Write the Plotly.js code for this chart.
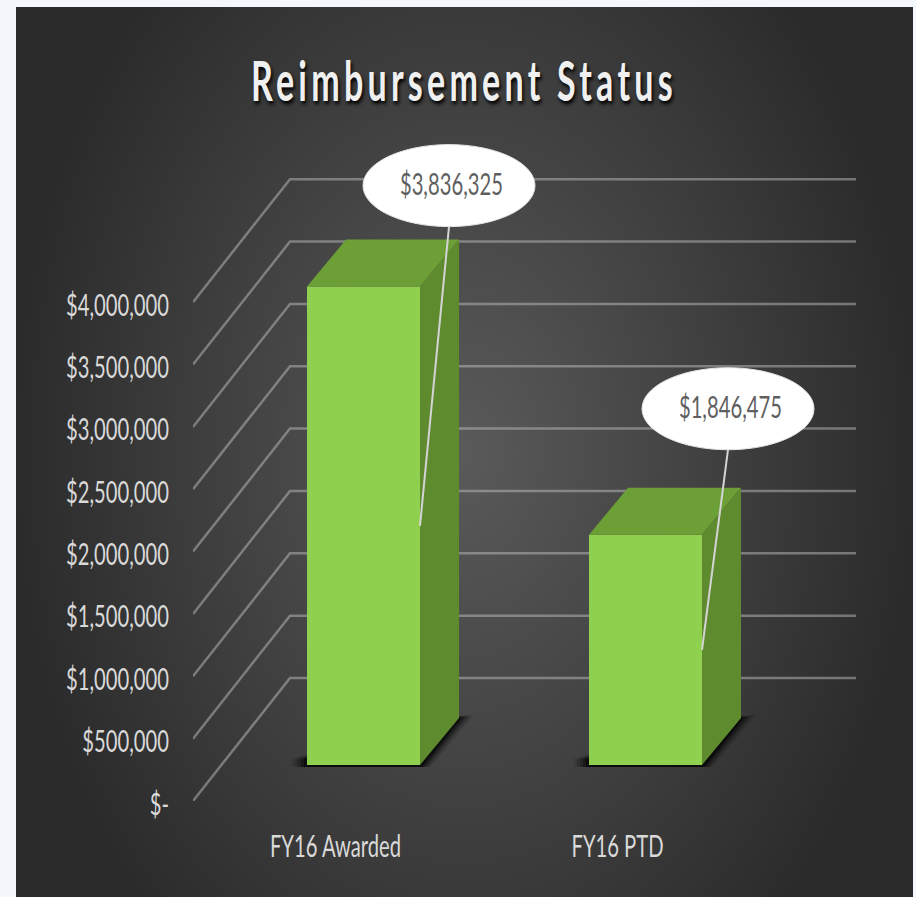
<!DOCTYPE html>
<html>
<head>
<meta charset="utf-8">
<script src="https://cdn.plot.ly/plotly-3.0.1.min.js"></script>
<style>
html,body{margin:0;padding:0;background:#f4f8fc;overflow:hidden;width:916px;height:897px}
#bg{position:absolute;left:16px;top:7px;width:897px;height:890px;background:radial-gradient(450px 640px at 50% 50%,#5a5a5a 0%,#2b2b2b 100%)}
#chart{position:absolute;left:0;top:0;width:916px;height:897px}
</style>
</head>
<body>
<div id="bg"></div>
<div id="chart"></div>
<script>
var titleText = 'Reimbursement Status';
var categories = ['FY16 Awarded', 'FY16 PTD'];
var values = [3836325, 1846475];
var valueLabels = ['$3,836,325', '$1,846,475'];
var tickValues = [0, 500000, 1000000, 1500000, 2000000, 2500000, 3000000, 3500000, 4000000];
var tickLabels = ['$-', '$500,000', '$1,000,000', '$1,500,000', '$2,000,000', '$2,500,000', '$3,000,000', '$3,500,000', '$4,000,000'];

var PX_X = 282, PX_Y = 124.7 / 1e6;           // scale helpers
function dx(p) { return p / PX_X; }
function dy(p) { return p / PX_Y; }

var xPos = categories.map(function (c, i) { return i; });
var barW = dx(113), depthX = dx(39), depthY = dy(47), floorY = dy(36);
var wallX = dx(97), wallY = dy(123);
var xMin = dx(193 - 363.5), xMax = dx(856 - 363.5);
var labelShift = [dx(-28), dx(-28)];
var calloutDX = [dx(85.5), dx(82.5)], calloutDY = [dy(101), dy(126)];
var rx = dx(86), ry = dy(41);

var FACE = '#8fd14f', TOP = '#6c9f36', SIDE = '#5f8b2f';
var FONT = 'Lato, sans-serif';

var traces = [];
traces.push({
  type: 'bar', x: xPos, y: values, base: floorY, width: barW,
  marker: { color: FACE, line: { width: 0 } }, hoverinfo: 'skip', showlegend: false
});
values.forEach(function (v, i) {
  var L = xPos[i] - barW / 2, R = xPos[i] + barW / 2, T = floorY + v;
  traces.push({ type: 'scatter', mode: 'lines', fill: 'toself', fillcolor: TOP, line: { width: 0, color: TOP },
    x: [L, R, R + depthX, L + depthX, L], y: [T, T, T + depthY, T + depthY, T], hoverinfo: 'skip', showlegend: false });
  traces.push({ type: 'scatter', mode: 'lines', fill: 'toself', fillcolor: SIDE, line: { width: 0, color: SIDE },
    x: [R, R + depthX, R + depthX, R, R], y: [floorY, floorY + depthY, T + depthY, T, floorY], hoverinfo: 'skip', showlegend: false });
  traces.push({ type: 'scatter', mode: 'lines', line: { width: 2, color: '#d4d4d4' },
    x: [xPos[i] + calloutDX[i], R], y: [T + calloutDY[i] - ry, floorY + v / 2], hoverinfo: 'skip', showlegend: false });
});

var shapes = [];
tickValues.forEach(function (v) {
  shapes.push({ type: 'path', layer: 'below', xref: 'x', yref: 'y',
    path: 'M' + xMin + ',' + v + ' L' + (xMin + wallX) + ',' + (v + wallY) + ' L' + xMax + ',' + (v + wallY),
    line: { color: 'rgba(190,190,190,0.5)', width: 2.5 } });
});
// soft contact shadow on the floor
[[15, 0.1], [12, 0.14], [9, 0.2], [6, 0.3], [3, 0.5]].forEach(function (s) {
  xPos.forEach(function (x) {
    var e = dx(s[0]), f = dy(s[0]);
    var L = x - barW / 2 - e, R = x + barW / 2;
    shapes.push({ type: 'path', layer: 'below', xref: 'x', yref: 'y',
      path: 'M' + L + ',' + (floorY - dy(2)) + ' L' + (R + e * 0.7) + ',' + (floorY - dy(2)) +
            ' L' + (R + depthX + e) + ',' + (floorY + depthY + f * 0.2) + ' L' + R + ',' + (floorY + depthY) + ' L' + L + ',' + (floorY + dy(6)) + ' Z',
      fillcolor: 'rgba(0,0,0,' + s[1] + ')', line: { width: 0 } });
  });
});

var annotations = [];
values.forEach(function (v, i) {
  var cx = xPos[i] + calloutDX[i], cy = floorY + v + calloutDY[i];
  shapes.push({ type: 'circle', layer: 'above', xref: 'x', yref: 'y',
    x0: cx - rx, x1: cx + rx, y0: cy - ry, y1: cy + ry, fillcolor: '#ffffff', line: { color: '#e6e6e6', width: 1 } });
  annotations.push({ x: cx, y: cy, xref: 'x', yref: 'y', text: valueLabels[i], showarrow: false, xshift: 2, yshift: 3,
    font: { family: FONT, size: 30, color: '#5f5f5f' } });
});

var layout = {
  width: 916, height: 897,
  margin: { l: 193, r: 60, t: 100, b: 96, pad: 0 },
  paper_bgcolor: 'rgba(0,0,0,0)', plot_bgcolor: 'rgba(0,0,0,0)',
  showlegend: false,
  title: { text: titleText, x: 0.5065, xanchor: 'center', y: 0.9095, yanchor: 'middle',
    font: { family: 'Lato, sans-serif', size: 56, color: '#f0f0f0', weight: 700, shadow: '2px 3px 4px #000' } },
  xaxis: {
    range: [xMin, xMax], showgrid: false, zeroline: false, showline: false,
    tickmode: 'array', tickvals: xPos.map(function (x, i) { return x + labelShift[i]; }), ticktext: categories,
    ticks: 'outside', ticklen: 19, tickcolor: 'rgba(0,0,0,0)',
    tickfont: { family: FONT, size: 30, color: '#d9d9d9' }
  },
  yaxis: {
    range: [0, dy(701)], showgrid: false, zeroline: false, showline: false,
    tickmode: 'array', tickvals: tickValues, ticktext: tickLabels,
    ticks: 'outside', ticklen: 17, tickcolor: 'rgba(0,0,0,0)', ticklabelshift: 3,
    tickfont: { family: FONT, size: 30, color: '#d9d9d9' }
  },
  shapes: shapes, annotations: annotations
};
Plotly.newPlot('chart', traces, layout, { displayModeBar: false, staticPlot: true }).then(function (gd) {
  // The source lettering is tall and narrow: squeeze the real text horizontally.
  function squeeze(sel, factor) {
    gd.querySelectorAll(sel).forEach(function (t) {
      t.setAttribute('textLength', (t.getComputedTextLength() * factor).toFixed(1));
      t.setAttribute('lengthAdjust', 'spacingAndGlyphs');
    });
  }
  var longest = 0;
  gd.querySelectorAll('.ytick text').forEach(function (t) { longest = Math.max(longest, t.getComputedTextLength()); });
  var f = 103 / longest;
  squeeze('.ytick text', f); squeeze('.xtick text', f); squeeze('.annotation-text', f);
  var tt = gd.querySelector('.gtitle');
  tt.style.letterSpacing = '7px';
  var k = 426 / tt.getComputedTextLength();
  var cx = parseFloat(tt.getAttribute('x'));
  tt.setAttribute('transform', 'translate(' + cx + ',0) scale(' + k.toFixed(4) + ',1) translate(' + (-cx) + ',0)');
});
</script>
</body>
</html>
